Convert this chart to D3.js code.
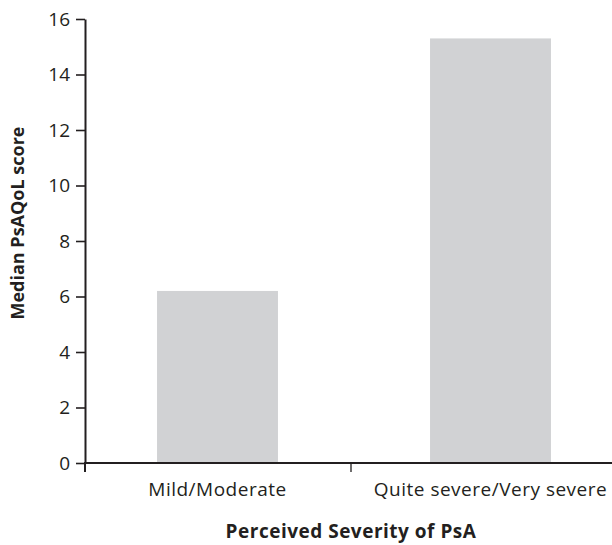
<!DOCTYPE html>
<html><head><meta charset="utf-8">
<script src="https://cdn.jsdelivr.net/npm/d3@7"></script>
<style>body{margin:0;background:#fff}</style>
</head><body>
<svg id="c" width="612" height="545"></svg>
<script>
const categories = ["Mild/Moderate", "Quite severe/Very severe"];
const values = [6.2, 15.3];
const yTicks = [0, 2, 4, 6, 8, 10, 12, 14, 16];
const yTitle = "Median PsAQoL score";
const xTitle = "Perceived Severity of PsA";

const svg = d3.select("#c");
const font = "'Open Sans', 'DejaVu Sans', sans-serif";
const ink = "#231f20";
const x0 = 85, yBase = 463, yTop = 19;

const y = d3.scaleLinear().domain([0, 16]).range([yBase, yTop]);
const x = d3.scaleBand().domain(categories).range([81, 627])
  .paddingInner(0.557).paddingOuter(0.2785);

// bars
svg.selectAll("rect.bar").data(values).enter().append("rect")
  .attr("x", (d, i) => x(categories[i]))
  .attr("width", x.bandwidth())
  .attr("y", d => y(d))
  .attr("height", d => yBase - y(d))
  .attr("fill", "#d1d2d4");

// y axis
const yAxis = svg.append("g").attr("transform", `translate(${x0},0)`)
  .call(d3.axisLeft(y).tickValues(yTicks).tickSize(9).tickPadding(6).tickSizeOuter(0));
yAxis.select(".domain").attr("stroke", ink).attr("stroke-width", 2);
yAxis.selectAll(".tick line").attr("stroke", ink).attr("stroke-width", 1.6);
yAxis.selectAll(".tick text").attr("fill", ink).style("font-family", font).style("font-size", "19px");

// x axis
svg.append("line").attr("x1", x0 - 1).attr("x2", 612).attr("y1", yBase).attr("y2", yBase)
  .attr("stroke", ink).attr("stroke-width", 2);
const step = x.step();
const divs = [x0, x(categories[1]) - step * x.paddingInner() / 2 - 3];
svg.selectAll("line.div").data(divs).enter().append("line")
  .attr("x1", d => d).attr("x2", d => d).attr("y1", yBase).attr("y2", yBase + 9)
  .attr("stroke", ink).attr("stroke-width", d => d === x0 ? 2 : 1.3);

svg.selectAll("text.cat").data(categories).enter().append("text")
  .attr("x", d => x(d) + x.bandwidth() / 2)
  .attr("y", 496)
  .attr("text-anchor", "middle")
  .attr("fill", ink)
  .style("font-family", font).style("font-size", "19px").style("letter-spacing", "0.5px")
  .text(d => d);

svg.append("text").attr("x", 351).attr("y", 538).attr("text-anchor", "middle")
  .attr("fill", ink).style("font-family", font).style("font-size", "19px").style("font-weight", "bold")
  .style("letter-spacing", "0.5px")
  .text(xTitle);

svg.append("text").attr("transform", "translate(24,223) rotate(-90)").attr("text-anchor", "middle")
  .attr("fill", ink).style("font-family", font).style("font-size", "18px").style("font-weight", "bold")
  .text(yTitle);
</script>
</body></html>
